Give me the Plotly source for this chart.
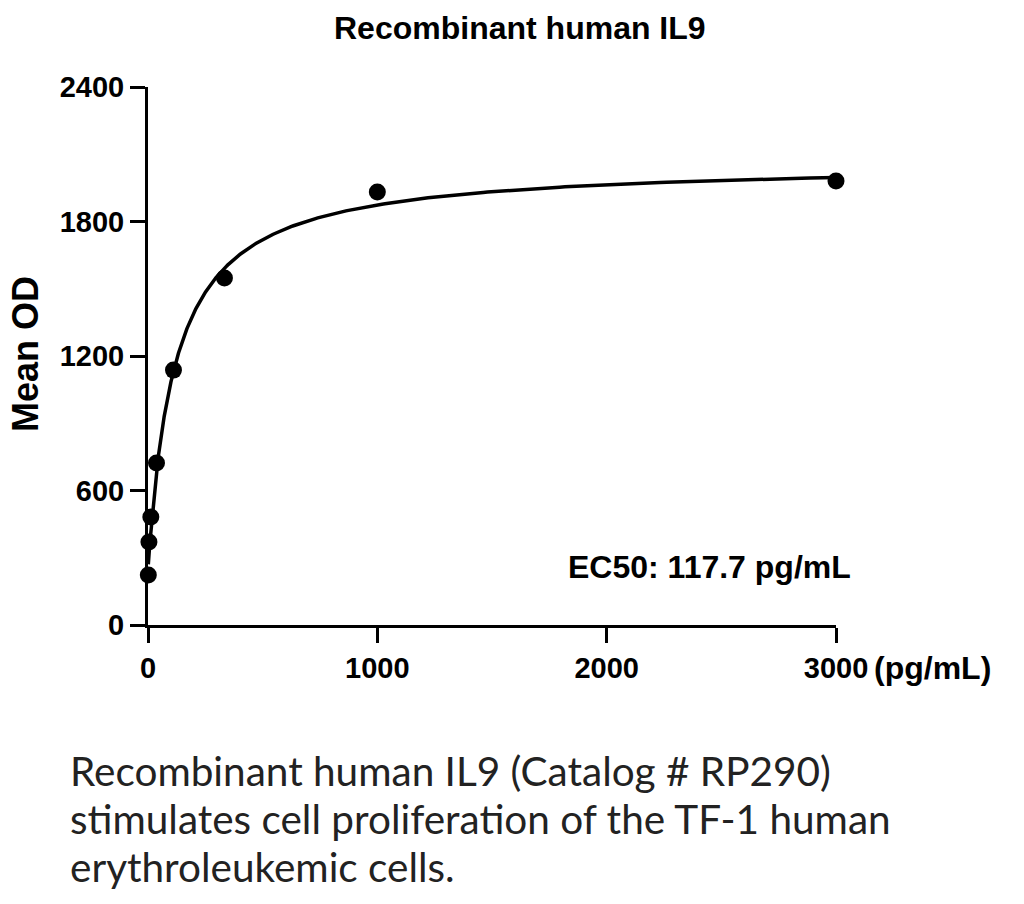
import numpy as np
import plotly.graph_objects as go

# ---- data ----
conc_pg_ml = [1.37, 4.12, 12.35, 37.04, 111.1, 333.3, 1000, 3000]
mean_od = [223, 370, 482, 723, 1137, 1548, 1932, 1981]

# four-parameter logistic fit shown in the figure
fit_bottom = 250
fit_top = 2065
fit_ec50 = 117.7
fit_hill = 1.0

x_ticks = [0, 1000, 2000, 3000]
y_ticks = [0, 600, 1200, 1800, 2400]

title_text = "Recombinant human IL9"
ec50_text = "EC50: 117.7 pg/mL"
caption_lines = [
    "Recombinant human IL9 (Catalog # RP290)",
    "stimulates cell proliferation of the TF-1 human",
    "erythroleukemic cells.",
]

# fitted curve across the measured range
x_fit = np.geomspace(min(conc_pg_ml), max(conc_pg_ml), 600)
y_fit = fit_bottom + (fit_top - fit_bottom) / (1 + (fit_ec50 / x_fit) ** fit_hill)

BOLD = "Liberation Sans"
fig = go.Figure()
fig.add_trace(go.Scatter(x=x_fit, y=y_fit, mode="lines",
                         line=dict(color="black", width=3.5),
                         hoverinfo="skip", cliponaxis=False))
fig.add_trace(go.Scatter(x=conc_pg_ml, y=mean_od, mode="markers",
                         marker=dict(color="black", size=17),
                         cliponaxis=False))

axis_common = dict(showline=True, linecolor="black", linewidth=3,
                   ticks="outside", ticklen=15, tickwidth=3, tickcolor="black",
                   showgrid=False, zeroline=False,
                   tickfont=dict(family=BOLD, size=29, color="black"))

fig.update_layout(
    width=1024, height=904,
    margin=dict(l=148, r=188, t=87, b=279),
    plot_bgcolor="white", paper_bgcolor="white",
    showlegend=False,
    xaxis=dict(range=[0, 3000], tickvals=x_ticks,
               ticktext=[f"<b>{v}</b>" for v in x_ticks], **axis_common),
    yaxis=dict(range=[0, 2400], tickvals=y_ticks,
               ticktext=[f"<b>{v}</b>" for v in y_ticks], **axis_common),
)

ann = []
ann.append(dict(text=f"<b>{title_text}</b>", xref="paper", yref="paper",
                x=(520 - 148) / 688, y=(625 - 28) / 538, xanchor="center", yanchor="middle",
                showarrow=False, font=dict(family=BOLD, size=32, color="black")))
ann.append(dict(text="<b>Mean OD</b>", xref="paper", yref="paper",
                x=(25 - 148) / 688, y=(625 - 354) / 538, xanchor="center", yanchor="middle",
                textangle=-90, showarrow=False, font=dict(family=BOLD, size=36, color="black")))
ann.append(dict(text="<b>(pg/mL)</b>", xref="paper", yref="paper",
                x=(872 - 148) / 688, y=(625 - 668) / 538, xanchor="left", yanchor="middle",
                showarrow=False, font=dict(family=BOLD, size=32, color="black")))
ann.append(dict(text=f"<b>{ec50_text}</b>", xref="paper", yref="paper",
                x=(566 - 148) / 688, y=(625 - 567) / 538, xanchor="left", yanchor="middle",
                showarrow=False, font=dict(family=BOLD, size=32, color="black")))
for i, (line, ypix) in enumerate(zip(caption_lines, [770, 818, 866])):
    ann.append(dict(text=line, xref="paper", yref="paper",
                    x=(68 - 148) / 688, y=(625 - ypix) / 538, xanchor="left", yanchor="middle",
                    showarrow=False, font=dict(family="Lato", size=40.5, color="#222222")))
fig.update_layout(annotations=ann)

fig.write_html("out.html")
